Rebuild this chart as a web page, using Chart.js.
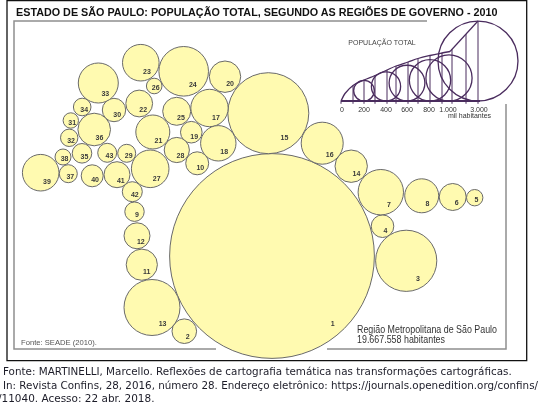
<!DOCTYPE html>
<html><head><meta charset="utf-8">
<script src="https://cdn.jsdelivr.net/npm/chart.js@4.4.1/dist/chart.umd.min.js"></script>
<style>
html,body{margin:0;padding:0;background:#fff;}
#wrap{position:relative;width:540px;height:405px;overflow:hidden;background:#fff;}
#c{position:absolute;left:0;top:0;}
.t{position:absolute;white-space:nowrap;transform-origin:0 0;line-height:1;display:inline-block;}
#title{font-family:"Liberation Sans",Arial,sans-serif;font-weight:bold;font-size:10.75px;color:#111;left:15.5px;top:6.9px;}
.src{font-family:"DejaVu Sans",Verdana,sans-serif;font-size:10px;color:#1c1c28;}
.note{font-family:"Liberation Sans Narrow","Liberation Sans",Arial,sans-serif;font-size:10.8px;color:#333;}
#seade{font-family:"Liberation Sans",Arial,sans-serif;font-size:7.6px;color:#555;left:20.7px;top:339.1px;}
</style></head><body>
<div id="wrap">
<canvas id="c" width="540" height="405"></canvas>
<div class="t" id="title" data-w="481.5">ESTADO DE SÃO PAULO: POPULAÇÃO TOTAL, SEGUNDO AS REGIÕES DE GOVERNO - 2010</div>
<div class="t" id="seade" data-w="76">Fonte: SEADE (2010).</div>
<div class="t note" style="left:357.3px;top:324.2px" data-w="140">Região Metropolitana de São Paulo</div>
<div class="t note" style="left:357.3px;top:333.6px" data-w="88">19.667.558 habitantes</div>
<div class="t src" style="left:3.3px;top:366.5px" data-w="508.7">Fonte: MARTINELLI, Marcello. Reflexões de cartografia temática nas transformações cartográficas.</div>
<div class="t src" style="left:3.3px;top:380.8px" data-w="535">In: Revista Confins, 28, 2016, número 28. Endereço eletrônico: https://journals.openedition.org/confins/</div>
<div class="t src" style="left:-2.5px;top:394.2px" data-w="156.5">/11040. Acesso: 22 abr. 2018.</div>
</div>
<script>
// ---- Data (regiões de governo, população 2010 em mil habitantes) ----
const regionIds = [1,2,3,4,5,6,7,8,9,10,11,12,13,14,15,16,17,18,19,20,21,22,23,24,25,26,27,28,29,30,31,32,33,34,35,36,37,38,39,40,41,42,43];
const regionPop = [19667.558,284,1757,240,126,342,967,542,177,248,457,317,1471,492,3078,828,656,588,219,463,542,337,628,1154,368,114,663,298,152,257,111,142,751,145,180,499,152,120,628,227,317,188,169];
// cartogram layout positions (map units)
const regionX = [272,184.3,406.2,382.5,474.7,452.7,380.8,421.7,134.5,197.2,141.8,137,152,351.2,268.3,322.2,209.5,218.3,191.3,225,152.8,139.2,140.8,183.7,176.7,154.2,150.2,176.8,126.7,114,70.8,69.2,98.3,82.2,82,94.2,68.3,63,40.7,92.2,117,132.3,107.2];
const regionY = [256,331.2,260.8,226.2,197.7,197,192.2,195.8,211.7,163.3,264.7,235.8,307.5,166.2,113.2,143.2,108,143.3,132.2,76.7,132,103.5,62.7,71.3,111.3,86,168.8,150,153.3,110,120.5,137.8,83,107,153.3,129.5,173.7,157,172.7,175.8,174.7,191.7,152.8];

// legend (população total, mil habitantes)
const legendPop = [200,400,600,800,1000,3000];
const legendX = [364,386,407,430,449,478];
const legendBaseY = 101;
const legendTickLabels = ['0','200','400','600','800','1.000','3.000'];
const legendTickX = [342,364,386,407,429,448,479];
const envelopeX = [341,345,353,364,375,387,396,408,418,430,442,450];
const envelopeY = [101,93.5,85.5,80,75.5,70,66,62,58.5,55.5,53,51.5];
const envelopeTopX = [450,478];
const envelopeTopY = [51.5,21];
const hatchX = [341,353,364,375,387,396,408,418,430,442,452,466,478];
const hatchTop = [101,85.5,80,75.5,70,66,62,58.5,55.5,53,49.3,34.1,21];

const K = 0.73; // radius (px) per sqrt(mil habitantes)
const PURPLE = '#4a2c5e';

const regionData = regionIds.map((id,i)=>({x:regionX[i], y:regionY[i], r:K*Math.sqrt(regionPop[i])}));
const legendData = legendPop.map((p,i)=>({x:legendX[i], y:legendBaseY - K*Math.sqrt(p), r:K*Math.sqrt(p)}));
const hatchData = [];
hatchX.forEach((x,i)=>{ hatchData.push({x:x,y:legendBaseY+2.8}); hatchData.push({x:x,y:hatchTop[i]}); hatchData.push({x:x,y:null}); });

const framePlugin = {
  id:'frame',
  beforeDraw(chart){
    const ctx = chart.ctx;
    ctx.save();
    ctx.fillStyle='#fff'; ctx.fillRect(0,0,chart.width,chart.height);
    ctx.strokeStyle='#8f8f8f'; ctx.lineWidth=1.5;
    ctx.beginPath();
    ctx.moveTo(427,21); ctx.lineTo(14,21); ctx.lineTo(14,349); ctx.lineTo(216,349);
    ctx.moveTo(327,349); ctx.lineTo(506,349); ctx.lineTo(506,104);
    ctx.stroke();
    ctx.strokeStyle='#111'; ctx.lineWidth=1.3;
    ctx.beginPath();
    ctx.moveTo(7,0.7); ctx.lineTo(7,360.7); ctx.lineTo(526.7,360.7); ctx.lineTo(526.7,0.7); ctx.closePath();
    ctx.stroke();
    ctx.restore();
  }
};

const labelPlugin = {
  id:'labels',
  afterDatasetsDraw(chart){
    const ctx = chart.ctx;
    ctx.save();
    ctx.font = 'bold 7px "Liberation Sans", Arial, sans-serif';
    ctx.fillStyle = '#3a3a3a';
    ctx.textAlign='center'; ctx.textBaseline='middle';
    chart.getDatasetMeta(0).data.forEach((el,i)=>{
      const r = el.options.radius;
      const d = Math.max(r-4.5,0);
      const fx = r > 60 ? 0.62 : 0.45;
      ctx.fillText(String(regionIds[i]), el.x + d*fx, el.y + d*0.7);
    });
    const sx = chart.scales.x, sy = chart.scales.y;
    ctx.fillStyle='#444';
    ctx.font = '7px "Liberation Sans", Arial, sans-serif';
    ctx.textAlign='left';
    ctx.fillText('POPULAÇÃO TOTAL', sx.getPixelForValue(348.3), sy.getPixelForValue(43.4));
    ctx.fillStyle='#333';
    ctx.font = '7px "Liberation Sans Narrow", "Liberation Sans", Arial, sans-serif';
    ctx.textAlign='center';
    legendTickLabels.forEach((t,i)=>{
      ctx.fillText(t, sx.getPixelForValue(legendTickX[i]), sy.getPixelForValue(109.6));
    });
    ctx.fillText('mil habitantes', sx.getPixelForValue(469.5), sy.getPixelForValue(115.9));
    ctx.restore();
  }
};

new Chart(document.getElementById('c'), {
  type:'bubble',
  data:{
    datasets:[
      {
        label:'Regiões de governo',
        data: regionData,
        backgroundColor:'#fffab0',
        borderColor:'#6a6a6a',
        borderWidth:1,
        clip:false
      },
      {
        label:'Legenda',
        data: legendData,
        backgroundColor:'rgba(0,0,0,0)',
        borderColor:PURPLE,
        borderWidth:1.3,
        clip:false
      },
      {
        type:'line', data: envelopeX.map((x,i)=>({x:x,y:envelopeY[i]})),
        borderColor:PURPLE, borderWidth:1.3, pointRadius:0, tension:0.35, fill:false
      },
      {
        type:'line', data: envelopeTopX.map((x,i)=>({x:x,y:envelopeTopY[i]})),
        borderColor:PURPLE, borderWidth:1.2, pointRadius:0, fill:false
      },
      {
        type:'line', data: hatchData, spanGaps:false,
        borderColor:PURPLE, borderWidth:1, pointRadius:0, fill:false
      },
      {
        type:'line', data:[{x:341,y:legendBaseY},{x:480,y:legendBaseY}],
        borderColor:PURPLE, borderWidth:2, pointRadius:0, fill:false
      }
    ]
  },
  options:{
    responsive:false, animation:false, events:[],
    layout:{padding:0, autoPadding:false},
    plugins:{legend:{display:false}, tooltip:{enabled:false}, title:{display:false}},
    scales:{
      x:{type:'linear', min:0, max:540, display:false},
      y:{type:'linear', min:0, max:405, reverse:true, display:false}
    }
  },
  plugins:[framePlugin, labelPlugin]
});

document.querySelectorAll('.t[data-w]').forEach(el=>{
  const w = el.getBoundingClientRect().width;
  const target = parseFloat(el.dataset.w);
  if (w>0) el.style.transform = 'scaleX(' + (target/w) + ')';
});
</script>
</body></html>
